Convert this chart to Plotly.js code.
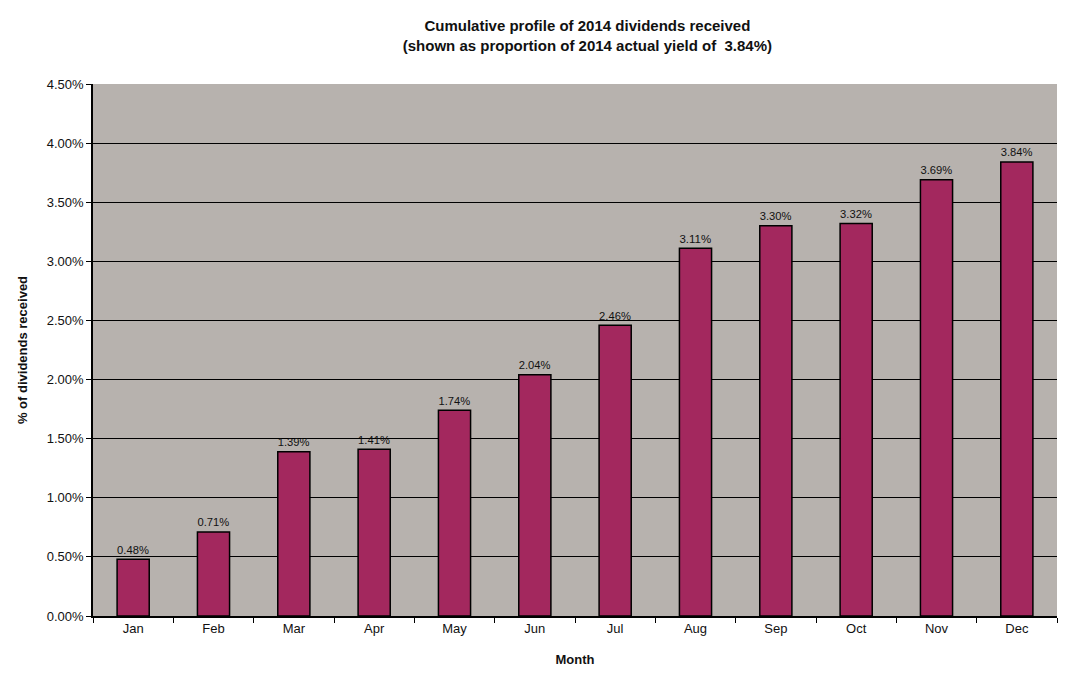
<!DOCTYPE html>
<html>
<head>
<meta charset="utf-8">
<script src="https://cdn.plot.ly/plotly-3.0.1.min.js"></script>
<style>body{margin:0;background:#fff}</style>
</head>
<body>
<div id="chart" style="width:1068px;height:695px"></div>
<script>
var months = ['Jan','Feb','Mar','Apr','May','Jun','Jul','Aug','Sep','Oct','Nov','Dec'];
var received = [0.48, 0.71, 1.39, 1.41, 1.74, 2.04, 2.46, 3.11, 3.30, 3.32, 3.69, 3.84];
var labels = ['0.48%','0.71%','1.39%','1.41%','1.74%','2.04%','2.46%','3.11%','3.30%','3.32%','3.69%','3.84%'];
var yTicks = [0,0.5,1,1.5,2,2.5,3,3.5,4,4.5];
var yTickText = ['0.00%','0.50%','1.00%','1.50%','2.00%','2.50%','3.00%','3.50%','4.00%','4.50%'];

var data = [{
  x: months,
  y: received,
  type: 'bar',
  width: 0.4,
  text: labels,
  textposition: 'outside',
  cliponaxis: false,
  textfont: {family: 'Liberation Sans, Arial', size: 13, color: '#111'},
  marker: {color: '#a3285e', line: {color: '#000', width: 1.5}},
  hoverinfo: 'x+y'
}];

var layout = {
  width: 1068,
  height: 695,
  paper_bgcolor: '#ffffff',
  plot_bgcolor: '#b7b2ae',
  showlegend: false,
  font: {family: 'Liberation Sans, Arial', size: 13, color: '#111'},
  title: {
    text: '<b>Cumulative profile of 2014 dividends received<br>(shown as proportion of 2014 actual yield of  3.84%)</b>',
    font: {size: 15, color: '#111'},
    x: 0.55, y: 0.955, yanchor: 'middle'
  },
  margin: {l: 93, r: 11, t: 84, b: 79, pad: 0},
  xaxis: {
    type: 'category',
    tickson: 'boundaries',
    ticks: 'outside',
    ticklen: 5,
    tickcolor: '#000',
    showline: true,
    linecolor: '#000',
    linewidth: 1.5,
    showgrid: false,
    title: {text: '<b>Month</b>', font: {size: 13}, standoff: 20}
  },
  yaxis: {
    range: [0, 4.5],
    tickvals: yTicks,
    ticktext: yTickText,
    ticks: 'outside',
    ticklen: 5,
    tickcolor: '#000',
    showline: true,
    linecolor: '#000',
    linewidth: 1.5,
    gridcolor: '#000',
    gridwidth: 1,
    zeroline: false,
    title: {text: '<b>% of dividends received</b>', font: {size: 13}, standoff: 16}
  }
};

Plotly.newPlot('chart', data, layout, {displayModeBar: false});
</script>
</body>
</html>
